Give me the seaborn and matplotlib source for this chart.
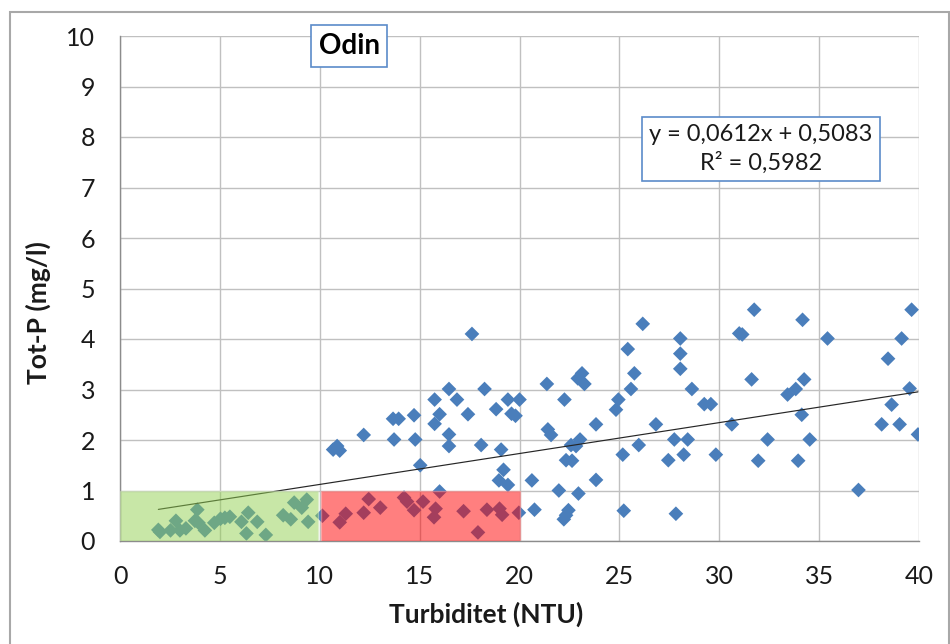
import matplotlib
matplotlib.use("Agg")
import matplotlib.pyplot as plt
from matplotlib.patches import Rectangle
import numpy as np
import pandas as pd
import seaborn as sns

# Turbidity (NTU) and total phosphorus (mg/l) samples, Odin station
turbidity = [
    1.92, 2.0, 2.53, 2.8, 3.0, 3.3, 3.75, 3.87, 3.93, 4.25, 4.72, 5.03, 5.25,
    5.5, 6.08, 6.33, 6.42, 6.87, 7.3, 8.17, 8.55, 8.72, 9.1, 9.35, 9.42,
    10.13, 11.0, 11.3, 12.2, 12.45, 13.03, 14.22, 14.37, 14.72, 15.17, 15.72,
    15.8, 16.0, 17.2, 17.92, 18.37, 19.0, 19.13, 19.97,
    10.67, 10.87, 11.0, 12.2, 13.67, 13.95, 13.72, 14.72, 14.78, 15.03, 15.75,
    15.75, 16.0, 16.47, 16.47, 16.47, 16.87, 17.42, 17.62, 18.08, 18.25, 18.83,
    18.97, 19.08, 19.2, 19.42, 19.42, 19.6, 19.8, 20.0, 20.62, 20.75,
    21.37, 21.42, 21.58, 21.97, 22.22, 22.25, 22.33, 22.33, 22.45, 22.58,
    22.63, 22.83, 22.92, 22.95, 23.03, 23.13, 23.25, 23.83, 23.83, 24.83,
    24.95, 25.17, 25.22, 25.42, 25.58, 25.75, 25.97, 26.17, 26.83, 27.45,
    27.75, 27.83, 28.05, 28.05, 28.05, 28.22, 28.42, 28.63, 29.25, 29.58,
    29.83, 30.63,
    31.0, 31.15, 31.62, 31.75, 31.95, 32.42, 33.42, 33.83, 33.95, 34.13,
    34.17, 34.25, 34.53, 35.42, 36.97, 38.13, 38.45, 38.63, 39.03, 39.13,
    39.53, 39.63, 39.95,
]
tot_p = [
    0.22, 0.18, 0.21, 0.40, 0.21, 0.25, 0.40, 0.62, 0.36, 0.21, 0.36, 0.44, 0.46,
    0.48, 0.38, 0.15, 0.56, 0.38, 0.12, 0.51, 0.43, 0.76, 0.66, 0.82, 0.38,
    0.50, 0.37, 0.54, 0.56, 0.83, 0.66, 0.86, 0.78, 0.61, 0.78, 0.47,
    0.64, 0.98, 0.59, 0.17, 0.62, 0.64, 0.52, 0.56,
    1.81, 1.88, 1.79, 2.10, 2.42, 2.42, 2.01, 2.49, 2.01, 1.50, 2.80,
    2.32, 2.51, 3.01, 2.11, 1.88, 2.80, 2.51, 4.10, 1.90, 3.01, 2.61,
    1.20, 1.81, 1.41, 2.80, 1.11, 2.52, 2.48, 2.80, 1.20, 0.62,
    3.11, 2.21, 2.10, 1.00, 0.43, 2.80, 1.60, 0.51, 0.61, 1.90,
    1.59, 1.88, 3.22, 0.94, 2.01, 3.32, 3.11, 2.31, 1.21, 2.60,
    2.80, 1.71, 0.60, 3.80, 3.01, 3.32, 1.90, 4.30, 2.31, 1.60,
    2.01, 0.54, 4.01, 3.71, 3.41, 1.71, 2.01, 3.01, 2.71, 2.71,
    1.71, 2.31,
    4.11, 4.09, 3.20, 4.58, 1.59, 2.01, 2.90, 3.01, 1.59, 2.50,
    4.38, 3.20, 2.01, 4.01, 1.01, 2.31, 3.61, 2.70, 2.31, 4.01,
    3.02, 4.58, 2.11,
]

# Linear trend reported for the series
slope = 0.0612
intercept = 0.5083
r_squared = 0.5982

# Shaded zones: (x start, x end, y top)
low_zone = (0, 10, 1)
mid_zone = (10, 20, 1)

x_ticks = [0, 5, 10, 15, 20, 25, 30, 35, 40]
y_ticks = [0, 1, 2, 3, 4, 5, 6, 7, 8, 9, 10]

sns.set_theme(style="white")
plt.rcParams["font.family"] = ["Lato", "DejaVu Sans"]

df = pd.DataFrame({"Turbiditet": turbidity, "TotP": tot_p})

fig = plt.figure(figsize=(9.5, 6.44), dpi=100)
ax = fig.add_axes([120 / 950, 1 - 541 / 644, 799 / 950, 505 / 644])

sns.scatterplot(data=df, x="Turbiditet", y="TotP", marker="D", s=56,
                color="#4a7ebb", edgecolor="none", linewidth=0, ax=ax, zorder=3)

# trend line over the observed turbidity range
xr = np.array([min(turbidity), max(turbidity)])
ax.plot(xr, slope * xr + intercept, color="#262626", lw=0.85, zorder=4)

# translucent zones over the low-turbidity samples
ax.add_patch(Rectangle((low_zone[0], 0), low_zone[1] - low_zone[0] - 0.08, low_zone[2],
                       facecolor="#92d050", edgecolor="#d8ecc4", lw=1.0,
                       alpha=0.5, zorder=5))
ax.add_patch(Rectangle((mid_zone[0] + 0.07, 0), mid_zone[1] - mid_zone[0] - 0.07, mid_zone[2],
                       facecolor="#ff0000", edgecolor="#ff9a9a", lw=1.0,
                       alpha=0.5, zorder=5))

ax.set_xlim(0, 40)
ax.set_ylim(0, 10)
ax.set_xticks(x_ticks)
ax.set_yticks(y_ticks)
ax.grid(True, color="#c0c0c0", lw=1.0)
ax.set_axisbelow(True)
for side in ["top", "right"]:
    ax.spines[side].set_visible(False)
for side in ["left", "bottom"]:
    ax.spines[side].set_color("#8c8c8c")
    ax.spines[side].set_linewidth(1.0)
ax.tick_params(axis="both", direction="out", length=8, width=1.0,
               color="#8c8c8c", labelsize=18, labelcolor="#1a1a1a")
ax.tick_params(axis="y", pad=10)
ax.tick_params(axis="x", pad=9)

ax.set_xlabel("Turbiditet (NTU)", fontsize=19, fontweight="bold", color="#1a1a1a")
ax.set_ylabel("Tot-P (mg/l)", fontsize=19, fontweight="bold", color="#1a1a1a")
ax.xaxis.set_label_coords(0.458, -0.12)
ax.yaxis.set_label_coords(-0.086, 0.453)

# title box
fig.text(349 / 950, 1 - 46 / 644, "Odin", ha="center", va="center",
         fontsize=20, fontweight="bold", color="black",
         bbox=dict(boxstyle="square,pad=0.28", facecolor="white",
                   edgecolor="#5b8bc9", lw=1.2))

# equation box
eq = f"y = {slope:.4f}x + {intercept:.4f}".replace(".", ",")
r2 = f"R² = {r_squared:.4f}".replace(".", ",")
fig.text(761 / 950, 1 - 149 / 644, eq + "\n" + r2, ha="center", va="center",
         fontsize=17, color="#1a1a1a", linespacing=1.35,
         bbox=dict(boxstyle="square,pad=0.32", facecolor="white",
                   edgecolor="#5b8bc9", lw=1.2))

# chart area frame
fig.patches.append(Rectangle((10 / 950, -0.02), 939 / 950, (644 - 12) / 644 + 0.02,
                             transform=fig.transFigure, fill=False,
                             edgecolor="#a8a8a8", lw=1.5))

fig.savefig("out.png", dpi=100)
